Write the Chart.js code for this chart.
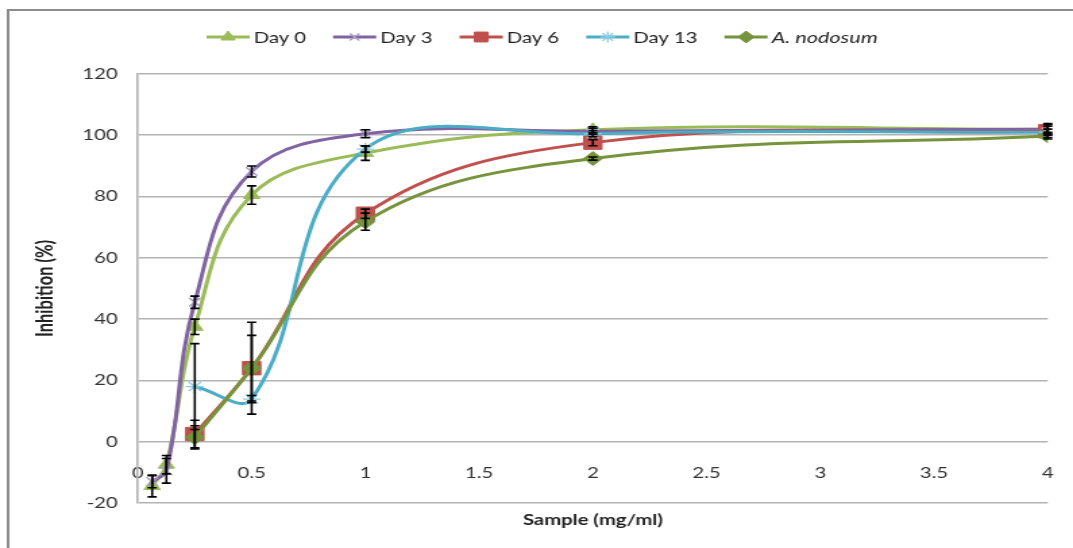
<!DOCTYPE html>
<html>
<head>
<meta charset="utf-8">
<script src="https://cdn.jsdelivr.net/npm/chart.js@4.4.1/dist/chart.umd.min.js"></script>
<style>
  html, body { margin: 0; padding: 0; background: #fff; overflow: hidden; }
  #chart { display: block; }
</style>
</head>
<body>
<canvas id="chart" width="795" height="548" style="width:1073px;height:548px"></canvas>
<script>
// Sample concentrations (mg/ml)
const concentrations = [0.0625, 0.125, 0.25, 0.5, 1, 2, 4];

// Inhibition (%) per series, with standard deviations
const day0       = [-14.5, -7.5, 37.5, 80.5, 94.2, 101.8, 102];
const day0Err    = [3.5, 3, 2.5, 3, 2.4, 1, 1];
const day3       = [-13, -9.5, 45.5, 88.2, 100.5, 101.3, 102];
const day3Err    = [2, 4, 2, 1.8, 1.3, 1, 1.5];
const day6       = [null, null, 2.5, 24, 74.4, 97.6, 101.3];
const day6Err    = [null, null, 4.5, 15, 1.5, 1, 2.5];
const day13      = [null, null, 18, 13.9, 95.5, 100.5, 101];
const day13Err   = [null, null, 14, 1.2, 1, 1, 1];
const nodosum    = [null, null, 1.4, 24, 71.8, 92.4, 99.8];
const nodosumErr = [null, null, 3.8, 10.7, 2.8, 0.5, 0.5];

const seriesNames = ['Day 0', 'Day 3', 'Day 6', 'Day 13', 'A. nodosum'];
const yTicks = [-20, 0, 20, 40, 60, 80, 100, 120];
const xTicks = [0, 0.5, 1, 1.5, 2, 2.5, 3, 3.5, 4];

const FONT = 'Lato, "Open Sans", sans-serif';

function points(values, errs) {
  const out = [];
  concentrations.forEach((c, i) => {
    if (values[i] !== null) out.push({ x: c, y: values[i], err: errs[i] });
  });
  return out;
}

const styles = [
  { line: '#9BBB59', pointStyle: 'triangle', radius: 7,   fill: '#9BBB59', stroke: '#9BBB59', bw: 1, italic: false },
  { line: '#8064A2', pointStyle: 'crossRot', radius: 6,   fill: '#A899C6', stroke: '#A899C6', bw: 1.3, italic: false },
  { line: '#C0504D', pointStyle: 'rect',     radius: 9.5, fill: '#C0504D', stroke: '#C0504D', bw: 1, italic: false },
  { line: '#4BACC6', pointStyle: 'star',     radius: 6.5, fill: '#8ACDE0', stroke: '#8ACDE0', bw: 1.3, italic: false },
  { line: '#77933C', pointStyle: 'rectRot',  radius: 7,   fill: '#77933C', stroke: '#77933C', bw: 1, italic: true }
];
const seriesData = [
  points(day0, day0Err),
  points(day3, day3Err),
  points(day6, day6Err),
  points(day13, day13Err),
  points(nodosum, nodosumErr)
];

const datasets = seriesNames.map((name, i) => ({
  label: name,
  data: seriesData[i],
  borderColor: styles[i].line,
  borderWidth: 3,
  backgroundColor: styles[i].fill,
  pointStyle: styles[i].pointStyle,
  pointRadius: styles[i].radius,
  pointBackgroundColor: styles[i].fill,
  pointBorderColor: styles[i].stroke,
  pointBorderWidth: styles[i].bw,
  tension: 0.4,
  fill: false,
  order: seriesNames.length - 1 - i
}));

// Outer chart frame (top and left edges)
const framePlugin = {
  id: 'frame',
  beforeDraw(chart) {
    const { ctx, width } = chart;
    ctx.save();
    ctx.strokeStyle = '#8C8C8C';
    ctx.lineWidth = 2;
    ctx.beginPath();
    ctx.moveTo(6, chart.height);
    ctx.lineTo(6, 10);
    ctx.lineTo(width, 10);
    ctx.stroke();
    ctx.restore();
  }
};

// Vertical error bars with caps
const errorBarPlugin = {
  id: 'errorBars',
  afterDatasetsDraw(chart) {
    const { ctx } = chart;
    const xs = chart.scales.x, ys = chart.scales.y;
    ctx.save();
    ctx.strokeStyle = '#000';
    ctx.lineWidth = 1.6;
    chart.data.datasets.forEach((ds) => {
      ds.data.forEach((p) => {
        if (p.err == null) return;
        const px = xs.getPixelForValue(p.x);
        const top = ys.getPixelForValue(p.y + p.err);
        const bot = ys.getPixelForValue(p.y - p.err);
        const cap = 3.4;
        ctx.beginPath();
        ctx.moveTo(px, top); ctx.lineTo(px, bot);
        ctx.moveTo(px - cap, top); ctx.lineTo(px + cap, top);
        ctx.moveTo(px - cap, bot); ctx.lineTo(px + cap, bot);
        ctx.stroke();
      });
    });
    ctx.restore();
  }
};

// Legend: a line segment with the series marker in its middle
const lineLegendPlugin = {
  id: 'lineLegend',
  afterDraw(chart) {
    const { ctx } = chart;
    const y = 37;
    const lineLen = 32, textGap = 3, itemGap = 20;
    let x = 153;
    ctx.save();
    ctx.textBaseline = 'middle';
    ctx.fillStyle = '#222';
    chart.data.datasets.forEach((ds, i) => {
      const st = styles[i];
      ctx.strokeStyle = st.line;
      ctx.lineWidth = 3;
      ctx.beginPath();
      ctx.moveTo(x, y);
      ctx.lineTo(x + lineLen, y);
      ctx.stroke();
      ctx.fillStyle = st.fill;
      ctx.strokeStyle = st.stroke;
      ctx.lineWidth = st.bw;
      Chart.helpers.drawPoint(ctx, {
        pointStyle: st.pointStyle,
        radius: st.pointStyle === 'rect' ? 7 : st.radius - 1,
        rotation: 0,
        borderWidth: st.bw
      }, x + lineLen / 2, y);
      ctx.font = (st.italic ? 'italic 16px ' : '15px ') + FONT;
      ctx.fillStyle = '#222';
      ctx.fillText(ds.label, x + lineLen + textGap, y + 1);
      x += lineLen + textGap + ctx.measureText(ds.label).width + itemGap;
    });
    ctx.restore();
  }
};

new Chart(document.getElementById('chart'), {
  type: 'line',
  data: { datasets },
  plugins: [framePlugin, errorBarPlugin, lineLegendPlugin],
  options: {
    responsive: false,
    animation: false,
    devicePixelRatio: 1,
    layout: { padding: { left: 20, right: 18.7, top: 74, bottom: 9 } },
    plugins: {
      legend: { display: false },
      tooltip: { enabled: false },
      title: {
        display: true,
        position: 'bottom',
        fullSize: false,
        text: 'Sample (mg/ml)',
        color: '#222',
        font: { family: FONT, size: 15, weight: 'bold' },
        padding: { top: 8, bottom: 10 }
      }
    },
    scales: {
      x: {
        type: 'linear',
        // labels sit in the band just below the zero line
        position: { y: -2.6 },
        min: 0,
        max: 4,
        afterBuildTicks(scale) { scale.ticks = xTicks.map(v => ({ value: v })); },
        ticks: {
          color: '#333',
          font: { family: FONT, size: 15 },
          padding: 14,
          maxRotation: 0,
          autoSkip: false,
          callback: (v) => String(v)
        },
        grid: { display: false, drawTicks: false },
        border: { display: false }
      },
      y: {
        position: 'left',
        min: -20,
        max: 120,
        afterBuildTicks(scale) { scale.ticks = yTicks.map(v => ({ value: v })); },
        afterFit(scale) { scale.width = 82.2; },
        ticks: {
          color: '#333',
          font: { family: FONT, size: 15 },
          padding: 15
        },
        grid: { color: '#B3B3B3', lineWidth: 1.6, drawTicks: false },
        border: { display: true, color: '#B3B3B3', width: 1.6 },
        title: {
          display: true,
          text: 'Inhibition (%)',
          color: '#222',
          font: { family: FONT, size: 16.5, weight: 'bold' },
          padding: { top: 4, bottom: 0 }
        }
      }
    }
  }
});
</script>
</body>
</html>
